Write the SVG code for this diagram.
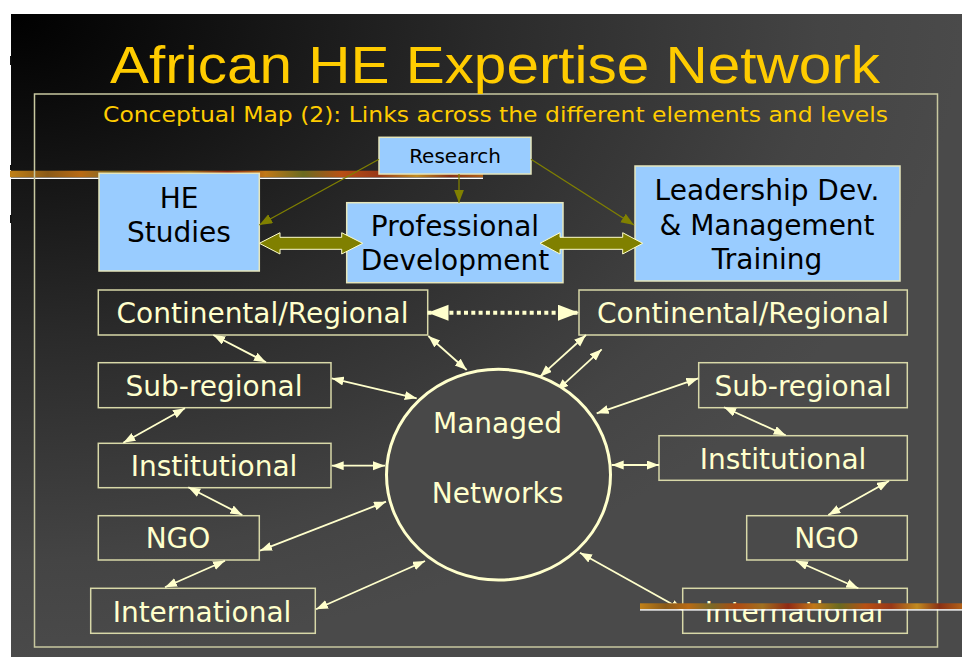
<svg xmlns="http://www.w3.org/2000/svg" width="962" height="657" viewBox="0 0 962 657">
<defs>
<radialGradient id="bg" cx="0" cy="0" r="1" fx="0" fy="0" gradientUnits="objectBoundingBox">
<stop offset="0" stop-color="#000"/>
<stop offset="0.15" stop-color="#0c0c0c"/>
<stop offset="0.5" stop-color="#2a2a2a"/>
<stop offset="0.85" stop-color="#444"/>
<stop offset="1" stop-color="#4a4a4a"/>
</radialGradient>
<linearGradient id="tex" x1="0" y1="0" x2="1" y2="0">
<stop offset="0" stop-color="#c08018"/>
<stop offset="0.08" stop-color="#8a5a18"/>
<stop offset="0.15" stop-color="#b86a14"/>
<stop offset="0.22" stop-color="#7a6a28"/>
<stop offset="0.3" stop-color="#b04a12"/>
<stop offset="0.38" stop-color="#a07020"/>
<stop offset="0.46" stop-color="#902a14"/>
<stop offset="0.54" stop-color="#c07818"/>
<stop offset="0.62" stop-color="#6a6a20"/>
<stop offset="0.7" stop-color="#b85014"/>
<stop offset="0.78" stop-color="#983818"/>
<stop offset="0.86" stop-color="#c08a20"/>
<stop offset="0.93" stop-color="#8a3014"/>
<stop offset="1" stop-color="#b06018"/>
</linearGradient>
<marker id="ah" markerUnits="userSpaceOnUse" markerWidth="13" markerHeight="10" refX="12" refY="4.5" orient="auto-start-reverse">
<path d="M0,0 L12,4.5 L0,9 z" fill="#ffffcc"/>
</marker>
<marker id="dh" markerUnits="userSpaceOnUse" markerWidth="22" markerHeight="17" refX="21" refY="8" orient="auto-start-reverse">
<path d="M0,0 L21,8 L0,16 z" fill="#ffffcc"/>
</marker>
<marker id="oh" markerUnits="userSpaceOnUse" markerWidth="14" markerHeight="11" refX="13" refY="5" orient="auto">
<path d="M0,0 L13,5 L0,10 z" fill="#808000"/>
</marker>
<style>
.blue{fill:#99ccff;stroke:#e6e6bc;stroke-width:1.5}
.lvl{fill:none;stroke:#d8d8a8;stroke-width:1.5}
.bt{font-family:"DejaVu Sans",Verdana,sans-serif;fill:#000;text-anchor:middle}
.lt{font-family:"DejaVu Sans",Verdana,sans-serif;font-size:28px;fill:#ffffcc;text-anchor:middle}
.con{stroke:#ffffcc;stroke-width:1.8;fill:none;marker-start:url(#ah);marker-end:url(#ah)}
.ol{stroke:#808000;stroke-width:1.3;fill:none;marker-end:url(#oh)}
.big{fill:#808000;stroke:#ffffcc;stroke-width:1}
</style>
</defs>

<rect x="11" y="14" width="951" height="643" fill="url(#bg)"/>
<rect x="10" y="56" width="1.5" height="9" fill="#111"/>
<rect x="10" y="165" width="1.5" height="5" fill="#111"/>
<rect x="10" y="215" width="1.5" height="8" fill="#111"/>

<rect x="10" y="170.7" width="473" height="6.6" fill="url(#tex)"/>
<rect x="10" y="177.6" width="473" height="1.4" fill="#fff"/>

<rect x="34.5" y="94" width="903" height="553" fill="none" stroke="#c8c8a0" stroke-width="1.5"/>

<text x="495" y="83" font-family="Liberation Sans, Arial, sans-serif" font-size="51" fill="#ffcc00" text-anchor="middle" textLength="770" lengthAdjust="spacingAndGlyphs">African HE Expertise Network</text>
<text x="495.5" y="122" font-family="DejaVu Sans, Verdana, sans-serif" font-size="22" fill="#ffcc00" text-anchor="middle" textLength="785" lengthAdjust="spacingAndGlyphs">Conceptual Map (2): Links across the different elements and levels</text>

<g id="research">
<rect class="blue" x="379" y="137.3" width="152" height="36.7"/>
<text class="bt" x="455" y="163" font-size="20">Research</text>
</g>
<g id="he-studies">
<rect class="blue" x="99" y="173.3" width="160.3" height="97.7"/>
<text class="bt" x="179" y="208" font-size="28">HE</text>
<text class="bt" x="179" y="242" font-size="28">Studies</text>
</g>
<g id="professional-development">
<rect class="blue" x="346.7" y="202.7" width="216.3" height="80"/>
<text class="bt" x="455" y="236" font-size="28">Professional</text>
<text class="bt" x="455" y="270" font-size="28">Development</text>
</g>
<g id="leadership">
<rect class="blue" x="635" y="166" width="265" height="115"/>
<text class="bt" x="767" y="200" font-size="28">Leadership Dev.</text>
<text class="bt" x="767" y="235" font-size="28">&amp; Management</text>
<text class="bt" x="767" y="269" font-size="28">Training</text>
</g>

<g id="left-continental">
<rect class="lvl" x="98.3" y="290" width="329.4" height="45"/>
<text class="lt" x="262.5" y="323.3">Continental/Regional</text>
</g>
<g id="left-subregional">
<rect class="lvl" x="98.3" y="362.7" width="232.7" height="45"/>
<text class="lt" x="214" y="396">Sub-regional</text>
</g>
<g id="left-institutional">
<rect class="lvl" x="98.3" y="443.3" width="232.7" height="44.4"/>
<text class="lt" x="214" y="476">Institutional</text>
</g>
<g id="left-ngo">
<rect class="lvl" x="98.3" y="515.7" width="161" height="44.3"/>
<text class="lt" x="178" y="548.3">NGO</text>
</g>
<g id="left-international">
<rect class="lvl" x="90.7" y="588.3" width="224.6" height="45"/>
<text class="lt" x="202" y="621.7">International</text>
</g>

<g id="right-continental">
<rect class="lvl" x="579" y="290" width="328.3" height="45"/>
<text class="lt" x="743" y="323.3">Continental/Regional</text>
</g>
<g id="right-subregional">
<rect class="lvl" x="698.7" y="362.7" width="208.6" height="45"/>
<text class="lt" x="803" y="396">Sub-regional</text>
</g>
<g id="right-institutional">
<rect class="lvl" x="659" y="435.7" width="248.3" height="44.6"/>
<text class="lt" x="783" y="469.3">Institutional</text>
</g>
<g id="right-ngo">
<rect class="lvl" x="746.7" y="515.7" width="160.6" height="44.3"/>
<text class="lt" x="826.5" y="548.3">NGO</text>
</g>
<g id="right-international">
<rect class="lvl" x="682.7" y="588.3" width="224.6" height="45"/>
<text class="lt" x="794" y="621.7">International</text>
</g>

<g id="connectors">
<polygon class="big" points="259.3,243.3 280,232.7 280,237.3 341.7,237.3 341.7,232.7 362.7,243.3 341.7,254 341.7,249.3 280,249.3 280,254"/>
<polygon class="big" points="540,243.3 560,232.7 560,237.3 622.7,237.3 622.7,232.7 642.7,243.3 622.7,254 622.7,249.3 560,249.3 560,254"/>
<line class="ol" x1="379" y1="159.3" x2="259.3" y2="225"/>
<line class="ol" x1="459" y1="174" x2="459" y2="202.7"/>
<line class="ol" x1="531" y1="159.3" x2="634" y2="225"/>

<line x1="427.5" y1="312.7" x2="579" y2="312.7" stroke="#ffffcc" stroke-width="4" stroke-dasharray="4 3.3" marker-start="url(#dh)" marker-end="url(#dh)"/>

<line class="con" x1="213.3" y1="335" x2="266" y2="362.3"/>
<line class="con" x1="428.3" y1="336" x2="466.7" y2="370"/>
<line class="con" x1="331.7" y1="378.3" x2="416.7" y2="398.3"/>
<line class="con" x1="185" y1="408.3" x2="123.3" y2="442.7"/>
<line class="con" x1="331.7" y1="465.7" x2="385" y2="465.7"/>
<line class="con" x1="188.3" y1="487.3" x2="242.3" y2="515"/>
<line class="con" x1="260" y1="550.7" x2="386" y2="501.7"/>
<line class="con" x1="225" y1="560.7" x2="165" y2="587.3"/>
<line class="con" x1="316" y1="609.3" x2="425" y2="561"/>

<line class="con" x1="586" y1="335" x2="540" y2="376.7"/>
<line class="con" x1="601.7" y1="349.3" x2="556.7" y2="390.7"/>
<line class="con" x1="596.7" y1="413.3" x2="698.3" y2="378.3"/>
<line class="con" x1="724" y1="407.3" x2="785.7" y2="435.3"/>
<line class="con" x1="611.7" y1="465" x2="659" y2="465"/>
<line class="con" x1="889" y1="481" x2="828.3" y2="515"/>
<line class="con" x1="796" y1="560.7" x2="858.3" y2="588.3"/>
<line class="con" x1="580" y1="552.7" x2="682.7" y2="610"/>
</g>

<g id="managed-networks">
<ellipse cx="498.5" cy="474.7" rx="112" ry="105.4" fill="#484848" stroke="#ffffcc" stroke-width="3"/>
<text class="lt" x="497.5" y="433.3">Managed</text>
<text class="lt" x="497.5" y="503.3">Networks</text>
</g>

<rect x="640" y="603.3" width="322" height="5.9" fill="url(#tex)"/>
<rect x="640" y="609.2" width="322" height="1.4" fill="#fff"/>
</svg>
